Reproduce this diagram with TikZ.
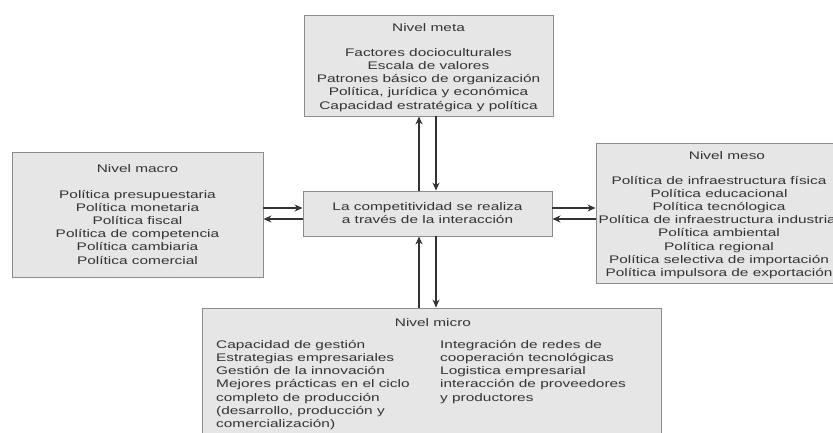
\documentclass[tikz,border=0pt]{standalone}
\usepackage{fontspec}
\setmainfont{Liberation Sans}
\newfontfamily\ancha[FakeStretch=1.4]{Liberation Sans}
\usetikzlibrary{arrows.meta}
\definecolor{boxfill}{HTML}{E6E6E6}
\definecolor{boxline}{HTML}{8C8C8C}
\definecolor{ink}{HTML}{333333}
\tikzset{
  nivel/.style={draw=boxline, fill=boxfill, line width=0.9pt, inner sep=0pt},
  txt/.style={text=ink, font=\ancha\fontsize{11}{13.2}\selectfont, inner sep=0pt, anchor=base},
  flecha/.style={draw=ink, line width=1.2pt, -{Stealth[length=8pt,width=7pt]}}
}
\begin{document}
\begin{tikzpicture}[x=1pt,y=-1pt]
  \useasboundingbox (0,0) rectangle (833,432);
  \clip (0,0) rectangle (833,432);
  % boxes
  \node[nivel, minimum width=249, minimum height=101] (meta) at (428.5,65.5) {};
  \node[nivel, minimum width=251, minimum height=125] (macro) at (137.5,214.5) {};
  \node[nivel, minimum width=249, minimum height=45] (centro) at (427.5,213.5) {};
  \node[nivel, minimum width=264, minimum height=140] (meso) at (728,213) {};
  \node[nivel, minimum width=459, minimum height=142] (micro) at (431.5,379) {};
  % texts (base = last line)
  \node[txt] (metatit) at (428.5,31) {Nivel meta};
  \node[txt, align=center] (metatxt) at (428.5,109) {Factores docioculturales\\
    Escala de valores\\ Patrones básico de organización\\
    Política, jurídica y económica\\ Capacidad estratégica y política};
  \node[txt] (macrotit) at (137.5,172) {Nivel macro};
  \node[txt, align=center] (macrotxt) at (137.5,264) {Política presupuestaria\\
    Política monetaria\\ Política fiscal\\ Política de competencia\\
    Política cambiaria\\ Política comercial};
  \node[txt, align=center] (centrotxt) at (427.5,223.5) {La competitividad se realiza\\
    a través de la interacción};
  \node[txt] (mesotit) at (727,159) {Nivel meso};
  \node[txt, align=center] (mesotxt) at (719,276.5) {Política de infraestructura física\\
    Política educacional\\ Política tecnólogica\\
    Política de infraestructura industrial\\ Política ambiental\\
    Política regional\\ Política selectiva de importación\\
    Política impulsora de exportación};
  \node[txt] (microtit) at (433,326) {Nivel micro};
  \node[txt, align=left, anchor=base west] (microizq) at (216,427.5) {Capacidad de gestión\\
    Estrategias empresariales\\ Gestión de la innovación\\
    Mejores prácticas en el ciclo\\ completo de producción\\
    (desarrollo, producción y\\ comercialización)};
  \node[txt, align=left, anchor=base west] (microder) at (440,401) {Integración de redes de\\
    cooperación tecnológicas\\ Logistica empresarial\\
    interacción de proveedores\\ y productores};
  % arrows
  \coordinate (n1) at ([xshift=-8.5pt]centro.north);
  \coordinate (n2) at ([xshift=8.5pt]centro.north);
  \coordinate (s1) at ([xshift=-8.5pt]centro.south);
  \coordinate (s2) at ([xshift=8.5pt]centro.south);
  \coordinate (w1) at ([yshift=5.5pt]centro.west);
  \coordinate (w2) at ([yshift=-5.5pt]centro.west);
  \coordinate (e1) at ([yshift=5.5pt]centro.east);
  \coordinate (e2) at ([yshift=-5.5pt]centro.east);
  \begin{scope}[flecha]
    \draw (n1) -- (n1 |- meta.south);
    \draw (n2 |- meta.south) -- (n2);
    \draw (s2) -- (s2 |- micro.north);
    \draw (s1 |- micro.north) -- (s1);
    \draw (w1 -| macro.east) -- (w1);
    \draw (w2) -- (w2 -| macro.east);
    \draw (e1) -- (e1 -| meso.west);
    \draw (e2 -| meso.west) -- (e2);
  \end{scope}
\end{tikzpicture}
\end{document}
